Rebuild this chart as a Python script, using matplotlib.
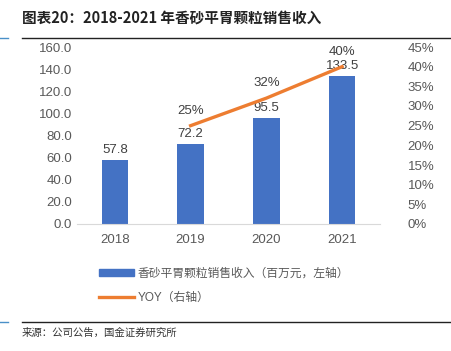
import numpy as np
import matplotlib.pyplot as plt
from matplotlib.lines import Line2D
from matplotlib.patches import Patch

plt.rcParams['font.family'] = ['Liberation Sans', 'Noto Sans CJK SC']

years = ['2018', '2019', '2020', '2021']
revenue = [57.8, 72.2, 95.5, 133.5]
yoy_years = ['2019', '2020', '2021']
yoy = [25, 32, 40]

W, H = 451, 351
fig = plt.figure(figsize=(W / 100, H / 100), dpi=100)

def fx(px):
    return px / W

def fy(py):
    return 1 - py / H

# title and frame lines
fig.text(fx(22), fy(18), '图表20：2018-2021 年香砂平胃颗粒销售收入', fontsize=10.5,
         fontweight='bold', fontstyle='italic', color='#222222', va='center', ha='left',
         family=['Noto Sans CJK SC'])
fig.add_artist(Line2D([fx(22), 1], [fy(38), fy(38)], color='#222222', lw=1.0))
fig.add_artist(Line2D([0, fx(8)], [fy(38), fy(38)], color='#4a90c8', lw=1.0))
fig.add_artist(Line2D([fx(22), 1], [fy(322), fy(322)], color='#222222', lw=1.0))
fig.add_artist(Line2D([0, fx(8)], [fy(322), fy(322)], color='#4a90c8', lw=1.0))
fig.text(fx(22), fy(333), '来源：公司公告，国金证券研究所', fontsize=7.5, color='#333333',
         va='center', ha='left', family=['Noto Sans CJK SC'])

ax = fig.add_axes([fx(77), fy(224), fx(380 - 77), fy(47) - fy(224)])
x = np.arange(len(years))
ax.bar(x, revenue, width=0.35, color='#4472C4', zorder=2)
ax.set_xlim(-0.5, len(years) - 0.5)
ax.set_ylim(0, 160)
ax.set_yticks(np.arange(0, 161, 20))
ax.set_yticklabels([f'{v:.1f}' for v in np.arange(0, 161, 20)])
ax.set_xticks(x)
ax.set_xticklabels(years)
for s in ['top', 'right', 'left']:
    ax.spines[s].set_visible(False)
ax.spines['bottom'].set_color('#d9d9d9')
ax.tick_params(length=0, labelsize=9.5, colors='#595959')
ax.tick_params(axis='x', pad=7)
for xi, v in zip(x, revenue):
    ax.text(xi, v + 4, f'{v:.1f}', ha='center', va='bottom', fontsize=9.5, color='#404040')

ax2 = ax.twinx()
xl = [years.index(y) for y in yoy_years]
ax2.plot(xl, yoy, color='#ED7D31', lw=2.4, zorder=3)
ax2.set_ylim(0, 45)
ax2.set_yticks(np.arange(0, 46, 5))
ax2.set_yticklabels([f'{v}%' for v in range(0, 46, 5)])
for s in ['top', 'right', 'left', 'bottom']:
    ax2.spines[s].set_visible(False)
ax2.tick_params(length=0, labelsize=9.5, colors='#595959', pad=20)
for xi, v in zip(xl, yoy):
    ax2.text(xi, v + 2.3, f'{v}%', ha='center', va='bottom', fontsize=9.5, color='#404040')

handles = [Patch(color='#4472C4'), Line2D([0], [0], color='#ED7D31', lw=2.4)]
labels = ['香砂平胃颗粒销售收入（百万元，左轴）', 'YOY（右轴）']
fig.legend(handles, labels, loc='upper left', bbox_to_anchor=(fx(88), fy(257)),
           frameon=False, fontsize=8.5, labelcolor='#595959', handlelength=3.0,
           handleheight=0.6, labelspacing=1.05, handletextpad=0.3)

fig.savefig('out.png', dpi=100)
